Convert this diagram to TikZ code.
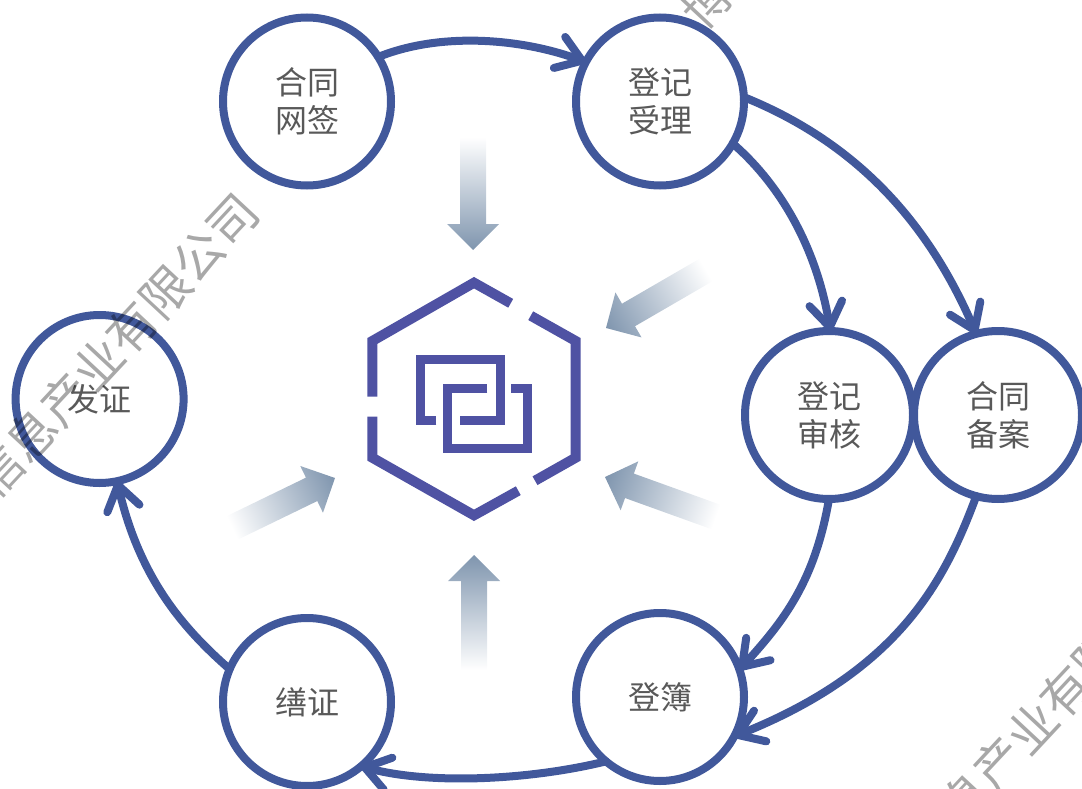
\documentclass[tikz,border=0pt]{standalone}
\usepackage{fontspec}
\setmainfont{Noto Sans CJK SC}
\usetikzlibrary{arrows.meta,calc}
\definecolor{ringblue}{HTML}{41589B}
\definecolor{hexblue}{HTML}{4F52A3}
\definecolor{labelgrey}{HTML}{595959}
\definecolor{fadeblue}{HTML}{7F95AE}
\tikzset{
  stage/.style={circle,draw=ringblue,line width=8pt,minimum size=168pt,inner sep=0pt,outer sep=0pt,align=center,
    font=\fontsize{32}{38}\selectfont,text=labelgrey},
  flow/.style={draw=ringblue,line width=8pt,line cap=round,-{Straight Barb[length=24pt,width=33pt,line width=8pt,round]}},
  hexline/.style={draw=hexblue,line width=10pt,miter limit=10},
  inner line/.style={draw=hexblue,line width=9pt},
  watermark/.style={text=black,text opacity=.34,rotate=47,inner sep=0pt,font=\fontsize{49}{49}\selectfont}
}
% tail, tip, canvas angle from tail to tip, length
\newcommand\gradarrow[4]{%
  \coordinate (t) at #1; \coordinate (p) at #2;
  \coordinate (n) at ($(p)!26pt!(t)$);
  \coordinate (m) at ($(t)!.5!(p)$);
  \begin{scope}
  \clip ($(t)!13pt!90:(p)$) -- ($(n)!13pt!90:(p)$) -- ($(n)!26pt!90:(p)$) -- (p)
    -- ($(n)!26pt!-90:(p)$) -- ($(n)!13pt!-90:(p)$) -- ($(t)!13pt!-90:(p)$) -- cycle;
  \begin{scope}[shift={(m)},rotate=#3]
    \pgflowlevelsynccm
    \shade[left color=white,right color=fadeblue] (-#4/2,-40) rectangle (#4/2,40);
  \end{scope}
  \end{scope}}
\begin{document}
\begin{tikzpicture}[x=1pt,y=-1pt]
\useasboundingbox (0,0) rectangle (1082,789);
\clip (0,0) rectangle (1082,789);
% gradient arrows
\gradarrow{(473,137)}{(473,250)}{-90}{113}
\gradarrow{(474,670)}{(474,555)}{90}{115}
\gradarrow{(706,270)}{(606,328)}{210.1}{115.6}
\gradarrow{(716,517)}{(605,477)}{160.2}{118}
\gradarrow{(232,528)}{(335,478)}{25.9}{114.5}
% stages
\node[stage] (wq) at (307,101.5) {合同\\网签};
\node[stage] (sl) at (660,101.5) {登记\\受理};
\node[stage] (sh) at (829,415) {登记\\审核};
\node[stage] (ba) at (998,415) {合同\\备案};
\node[stage] (db) at (660,697) {登簿};
\node[stage] (sz) at (307,702) {缮证};
\node[stage] (fz) at (99.6,399) {发证};
% connectors
\draw[flow] (wq.32) .. controls (440,32) and (520,38) .. (sl.152);
\draw[flow] (sl.3) .. controls (850,140) and (925,215) .. (ba.105);
\draw[flow] (sl.-30) .. controls (775,180) and (815,240) .. (sh.89);
\draw[flow] (sh.-90) .. controls (815,580) and (785,620) .. (db.19);
\draw[flow] (ba.-105) .. controls (945,580) and (900,670) .. (db.-28);
\draw[flow] (db.230) .. controls (530,780) and (430,785) .. (sz.-50);
\draw[flow] (sz.157) .. controls (185,630) and (140,580) .. (fz.-78);
% hexagon
\draw[hexline] (510.7,303.3) -- (474,282.7) -- (372.3,341) -- (372.3,396.7);
\draw[hexline] (530.7,315.7) -- (575.7,341) -- (575.7,457.7) -- (535,480.7);
\draw[hexline] (518.3,490.7) -- (474,515.3) -- (372.3,457.7) -- (372.3,416.7);
\draw[inner line] (436.3,420) -- (420,420) -- (420,359.3) -- (500.3,359.3) -- (500.3,420) -- (460,420);
\draw[inner line] (487.3,388) -- (447,388) -- (447,448.7) -- (527.7,448.7) -- (527.7,388) -- (511.3,388);
% watermarks
\node[watermark,anchor=east] (wm1) at (249,202) {信息产业有限公司};
\node[watermark,anchor=west] (wm2) at (915,853) {信息产业有限公司};
\node[watermark,anchor=west] (wm3) at (690,20) {博};
\end{tikzpicture}
\end{document}
